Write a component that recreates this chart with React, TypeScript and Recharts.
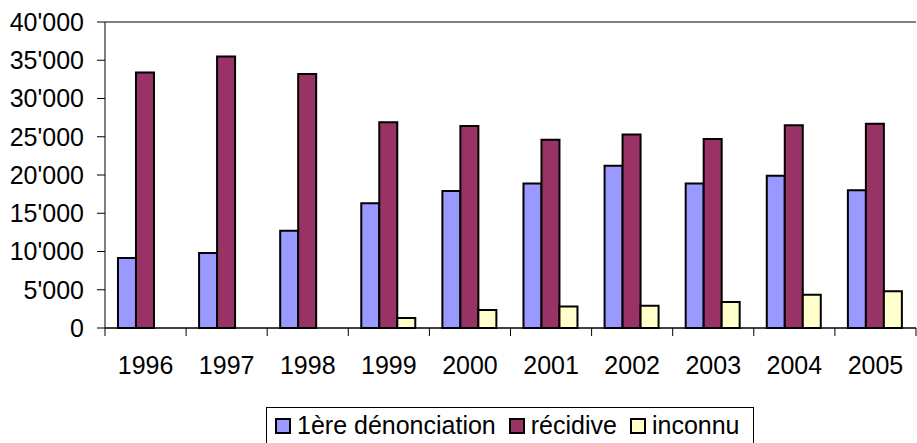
import {
  BarChart,
  Bar,
  XAxis,
  YAxis,
  CartesianGrid,
  Legend,
} from "recharts";

// ── Data ──────────────────────────────────────────────────────────────────────

const YEARS = ["1996", "1997", "1998", "1999", "2000", "2001", "2002", "2003", "2004", "2005"];
const PREMIERE = [9150, 9800, 12700, 16300, 17900, 18900, 21200, 18900, 19900, 18000];
const RECIDIVE = [33400, 35500, 33200, 26900, 26400, 24600, 25300, 24700, 26500, 26700];
const INCONNU = [null, null, null, 1300, 2350, 2800, 2900, 3400, 4350, 4800];
const Y_TICKS = [0, 5000, 10000, 15000, 20000, 25000, 30000, 35000, 40000];
const SERIES_NAMES = ["1ère dénonciation", "récidive", "inconnu"];

const data = YEARS.map((year, i) => ({
  year,
  premiere: PREMIERE[i],
  recidive: RECIDIVE[i],
  inconnu: INCONNU[i],
}));

// ── Layout ────────────────────────────────────────────────────────────────────

const W = 917;
const H = 443;
const Y_AXIS_W = 105;
const MARGIN_RIGHT = 1;
const BAND = (W - Y_AXIS_W - MARGIN_RIGHT) / YEARS.length;
const FONT = "'Liberation Sans', Arial, sans-serif";

const fmt = (v: number) =>
  v === 0 ? "0" : `${Math.floor(v / 1000)}'${String(v % 1000).padStart(3, "0")}`;

function YearTick(props: any) {
  const { x, y, payload, index } = props;
  const half = BAND / 2;
  return (
    <g>
      <line x1={x - half} x2={x - half} y1={y} y2={y + 8} stroke="#000" />
      {index === YEARS.length - 1 && (
        <line x1={x + half} x2={x + half} y1={y} y2={y + 8} stroke="#000" />
      )}
      <text x={x} y={y + 46} textAnchor="middle" fontSize={25} fill="#000" fontFamily={FONT}>
        {payload.value}
      </text>
    </g>
  );
}

function LegendBox(props: any) {
  const items = [...(props.payload ?? [])].sort(
    (a: any, b: any) => SERIES_NAMES.indexOf(a.value) - SERIES_NAMES.indexOf(b.value)
  );
  return (
    <div
      style={{
        border: "1px solid #000",
        borderBottom: "none",
        height: 36,
        boxSizing: "border-box",
        display: "flex",
        alignItems: "center",
        paddingLeft: 8,
        fontSize: 25,
        fontFamily: FONT,
        color: "#000",
        whiteSpace: "nowrap",
      }}
    >
      {items.map((e: any) => (
        <span
          key={e.value}
          style={{ display: "inline-flex", alignItems: "center", marginRight: 13 }}
        >
          <span
            style={{
              width: 12,
              height: 12,
              border: "2px solid #000",
              background: e.color,
              marginRight: 6,
              display: "inline-block",
            }}
          />
          {e.value}
        </span>
      ))}
    </div>
  );
}

export default function App() {
  return (
    <div style={{ position: "absolute", left: 0, top: 0, background: "#fff" }}>
      <BarChart
        width={W}
        height={H}
        data={data}
        margin={{ top: 22, right: MARGIN_RIGHT, bottom: 0, left: 0 }}
        barCategoryGap="16%"
        barGap={0}
      >
        <CartesianGrid horizontal vertical={false} stroke="#000" />
        <XAxis
          xAxisId="main"
          dataKey="year"
          height={79}
          interval={0}
          tickSize={0}
          tickMargin={0}
          tickLine={false}
          axisLine={{ stroke: "#000" }}
          tick={<YearTick />}
        />
        <XAxis
          xAxisId="top"
          dataKey="year"
          orientation="top"
          height={0}
          tick={false}
          tickLine={false}
          axisLine={{ stroke: "#808080" }}
        />
        <YAxis
          yAxisId="main"
          width={Y_AXIS_W}
          domain={[0, 40000]}
          ticks={Y_TICKS}
          interval={0}
          tickFormatter={fmt}
          tickSize={8}
          tickMargin={13}
          tickLine={{ stroke: "#000" }}
          axisLine={{ stroke: "#000" }}
          tick={{ fontSize: 25, fill: "#000", fontFamily: FONT }}
        />
        <YAxis
          yAxisId="right"
          orientation="right"
          width={0}
          domain={[0, 40000]}
          tick={false}
          tickLine={false}
          axisLine={{ stroke: "#808080" }}
        />
        <Legend
          verticalAlign="bottom"
          content={<LegendBox />}
          wrapperStyle={{ left: 266, width: 488, bottom: 0, height: 36 }}
        />
        <Bar
          xAxisId="main"
          yAxisId="main"
          dataKey="premiere"
          name={SERIES_NAMES[0]}
          fill="#9999FF"
          stroke="#000"
          strokeWidth={2}
          isAnimationActive={false}
        />
        <Bar
          xAxisId="main"
          yAxisId="main"
          dataKey="recidive"
          name={SERIES_NAMES[1]}
          fill="#993366"
          stroke="#000"
          strokeWidth={2}
          isAnimationActive={false}
        />
        <Bar
          xAxisId="main"
          yAxisId="main"
          dataKey="inconnu"
          name={SERIES_NAMES[2]}
          fill="#FFFFCC"
          stroke="#000"
          strokeWidth={2}
          isAnimationActive={false}
        />
      </BarChart>
    </div>
  );
}
